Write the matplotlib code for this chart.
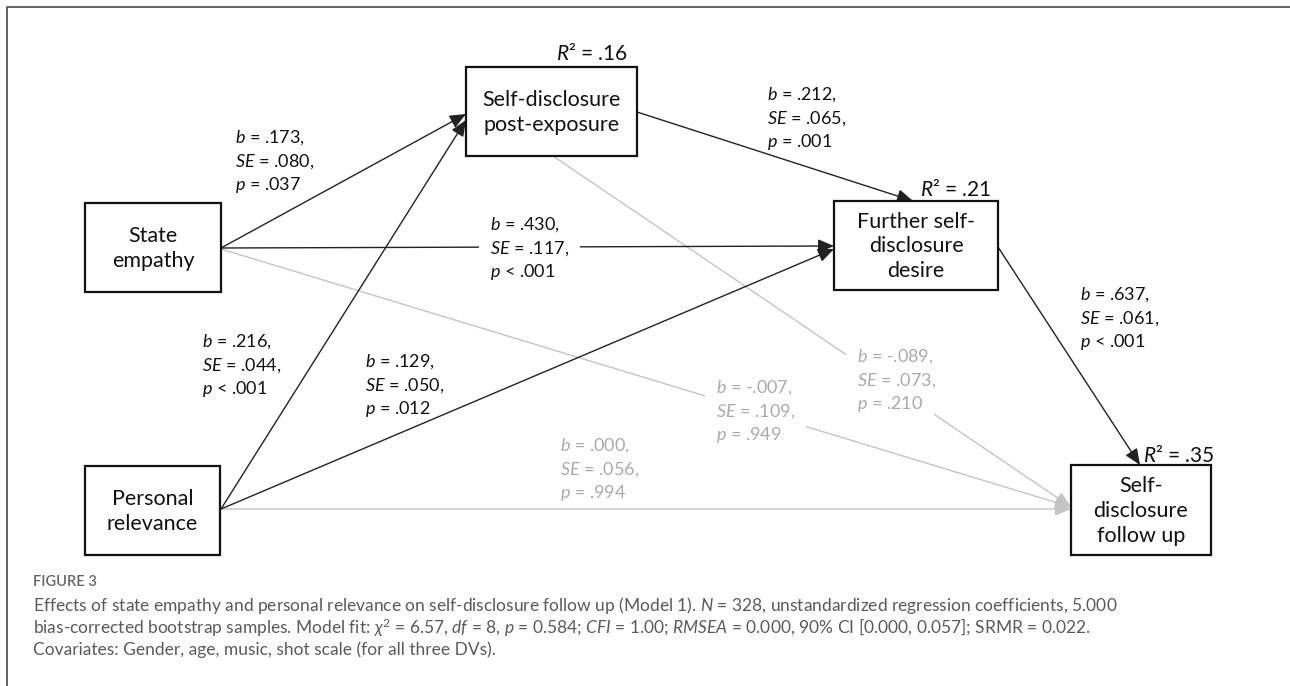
import numpy as np
import matplotlib
matplotlib.use("Agg")
import matplotlib.pyplot as plt
from matplotlib.patches import Rectangle

plt.rcParams['font.family'] = ['Lato', 'DejaVu Sans']
plt.rcParams['mathtext.fontset'] = 'custom'
plt.rcParams['mathtext.rm'] = 'Lato'
plt.rcParams['mathtext.it'] = 'Lato:italic'

##### MODEL DATA #####

nodes = ['State\nempathy', 'Personal\nrelevance', 'Self-disclosure\npost-exposure',
         'Further self-\ndisclosure\ndesire', 'Self-\ndisclosure\nfollow up']
r_squared = {2: '.16', 3: '.21', 4: '.35'}

# paths: (from, to, b, SE, p-text, significant)
path_from = [0, 1, 0, 1, 2, 3, 2, 0, 1]
path_to = [2, 2, 3, 3, 3, 4, 4, 4, 4]
path_b = ['.173', '.216', '.430', '.129', '.212', '.637', '-.089', '-.007', '.000']
path_se = ['.080', '.044', '.117', '.050', '.065', '.061', '.073', '.109', '.056']
path_p = ['= .037', '< .001', '< .001', '= .012', '= .001', '< .001', '= .210', '= .949', '= .994']
path_sig = [True, True, True, True, True, True, False, False, False]

caption_title = 'FIGURE 3'
caption_lines = [
    r'Effects of state empathy and personal relevance on self-disclosure follow up (Model 1). $N$ = 328, unstandardized regression coefficients, 5.000',
    r'bias-corrected bootstrap samples. Model fit: $\chi^2$ = 6.57, $df$ = 8, $p$ = 0.584; $CFI$ = 1.00; $RMSEA$ = 0.000, 90% CI [0.000, 0.057]; SRMR = 0.022.',
    'Covariates: Gender, age, music, shot scale (for all three DVs).',
]

##### LAYOUT (pixel canvas) #####

box_xy = [(85, 203, 136, 89), (85, 466, 135, 89), (466, 67, 171, 89),
          (834, 201, 164, 89), (1071, 465, 140, 90)]
# start / tip points of every path
path_start = [(221, 248), (221, 509), (221, 248), (221, 509), (637, 112),
              (998, 247), (553, 156), (221, 249), (221, 509)]
path_tip = [(466, 114), (466, 120), (834, 246), (834, 249), (913, 201),
            (1140, 465), (1071, 507), (1071, 507), (1071, 509)]
label_xy = [(235, 138), (202, 342), (490, 225), (365, 362), (767, 95),
            (1080, 295), (857, 357), (716, 388), (560, 446)]
label_gap = [False, False, True, False, False, False, True, True, False]
r2_xy = {2: (556, 53), 3: (920, 190), 4: (1143, 455)}

dark = '#222222'
grey_line = '#c4c4c4'
grey_text = '#aaaaaa'

fig = plt.figure(figsize=(12.9, 6.86), dpi=100)
ax = fig.add_axes([0, 0, 1, 1])
ax.set_xlim(0, 1290)
ax.set_ylim(686, 0)
ax.axis('off')

# outer frame (left and top edges)
ax.plot([7, 7, 1290], [686, 7, 7], color='#555555', lw=1.3, zorder=0)

# paths
for i in range(len(path_b)):
    col = dark if path_sig[i] else grey_line
    ax.annotate('', xy=path_tip[i], xytext=path_start[i],
                arrowprops=dict(arrowstyle='-|>,head_length=0.75,head_width=0.32',
                                mutation_scale=13, lw=1.0, color=col,
                                shrinkA=0, shrinkB=0), zorder=2 if path_sig[i] else 1)

# path labels; white boxes underneath break the line they sit on
for i in range(len(path_b)):
    col = '#111111' if path_sig[i] else grey_text
    x, y = label_xy[i]
    rows = [r'$b$ = %s,' % path_b[i], r'$SE$ = %s,' % path_se[i], r'$p$ %s' % path_p[i]]
    for k, row in enumerate(rows):
        if label_gap[i]:
            ax.text(x, y + k * 23.5, row, fontsize=13, color='white', ha='left',
                    va='center', zorder=2.5, bbox=dict(fc='white', ec='none', pad=8))
        ax.text(x, y + k * 23.5, row, fontsize=13, color=col, ha='left', va='center',
                zorder=3)

# boxes
for j, name in enumerate(nodes):
    x, y, w, h = box_xy[j]
    ax.add_patch(Rectangle((x, y), w, h, fc='white', ec='#111111', lw=1.6, zorder=4))
    ax.text(x + w / 2, y + h / 2 + 1, name, fontsize=15.5, ha='center', va='center',
            linespacing=1.3, color='#111111', zorder=5)

for j, val in r_squared.items():
    x, y = r2_xy[j]
    ax.text(x, y, r'$R$² = %s' % val, fontsize=15, ha='left', va='center',
            color='#111111', zorder=5)

# caption
ax.text(33, 582, caption_title, fontsize=10.5, fontweight='semibold', color='#666666',
        ha='left', va='center')
for k, line in enumerate(caption_lines):
    ax.text(33, 605 + k * 22.5, line, fontsize=12.5, color='#5a5a5a', ha='left', va='center')

fig.savefig('out.png', dpi=100)
